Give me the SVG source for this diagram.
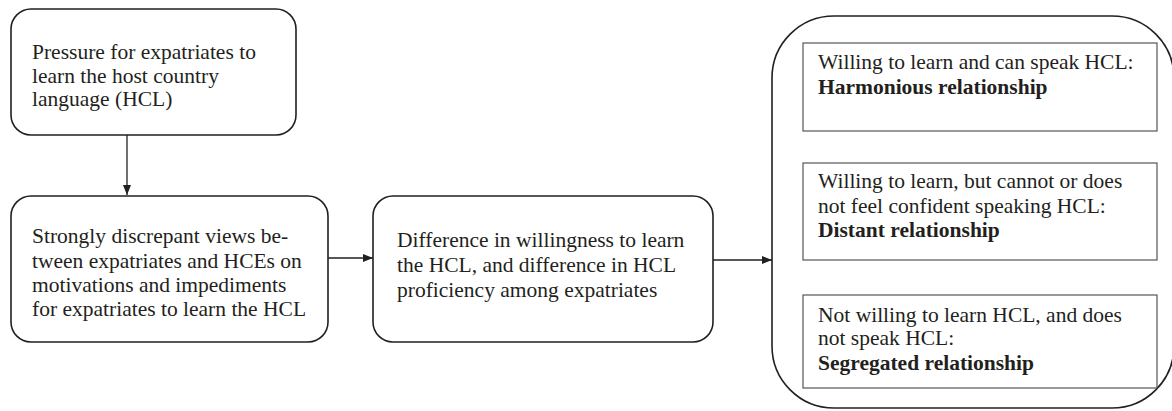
<svg xmlns="http://www.w3.org/2000/svg" width="1172" height="411" viewBox="0 0 1172 411">
<style>
.t{font-family:"Liberation Serif","Times New Roman",serif;font-size:21.5px;fill:#231f20}
.b{font-weight:bold}
.node{fill:#fff;stroke:#231f20;stroke-width:1.6}
.inner{fill:#fff;stroke:#555;stroke-width:1.2}
.conn{stroke:#231f20;stroke-width:1.3;fill:none}
</style>
<defs>
<marker id="ah" markerWidth="10" markerHeight="8" refX="10" refY="4" orient="auto" markerUnits="userSpaceOnUse">
<path d="M0,0 L10,4 L0,8 Z" fill="#231f20"/>
</marker>
</defs>
<rect width="1172" height="411" fill="#fff"/>
<g id="connectors">
<line class="conn" x1="127" y1="135" x2="127" y2="195" marker-end="url(#ah)"/>
<line class="conn" x1="328" y1="258" x2="373" y2="258" marker-end="url(#ah)"/>
<line class="conn" x1="713" y1="260" x2="772" y2="260" marker-end="url(#ah)"/>
</g>
<g id="pressure">
<rect class="node" x="11" y="9" width="285" height="126" rx="20"/>
<text class="t"><tspan x="32" y="59">Pressure for expatriates to</tspan><tspan x="32" y="83">learn the host country</tspan><tspan x="32" y="106">language (HCL)</tspan></text>
</g>
<g id="views">
<rect class="node" x="11" y="196" width="317" height="146" rx="20"/>
<text class="t"><tspan x="32" y="243">Strongly discrepant views be-</tspan><tspan x="32" y="268">tween expatriates and HCEs on</tspan><tspan x="32" y="292">motivations and impediments</tspan><tspan x="32" y="316">for expatriates to learn the HCL</tspan></text>
</g>
<g id="difference">
<rect class="node" x="373" y="196" width="340" height="146" rx="20"/>
<text class="t"><tspan x="397" y="247">Difference in willingness to learn</tspan><tspan x="397" y="272">the HCL, and difference in HCL</tspan><tspan x="397" y="297">proficiency among expatriates</tspan></text>
</g>
<g id="relationships">
<rect class="node" x="772" y="16" width="402" height="392" rx="62"/>
</g>
<g id="harmonious">
<rect class="inner" x="803" y="43" width="354" height="88"/>
<text class="t"><tspan x="818" y="69">Willing to learn and can speak HCL:</tspan><tspan class="b" x="818" y="94">Harmonious relationship</tspan></text>
</g>
<g id="distant">
<rect class="inner" x="803" y="163" width="354" height="97"/>
<text class="t"><tspan x="818" y="188">Willing to learn, but cannot or does</tspan><tspan x="818" y="213">not feel confident speaking HCL:</tspan><tspan class="b" x="818" y="237">Distant relationship</tspan></text>
</g>
<g id="segregated">
<rect class="inner" x="803" y="295" width="354" height="93"/>
<text class="t"><tspan x="818" y="322">Not willing to learn HCL, and does</tspan><tspan x="818" y="345">not speak HCL:</tspan><tspan class="b" x="818" y="370">Segregated relationship</tspan></text>
</g>
</svg>
